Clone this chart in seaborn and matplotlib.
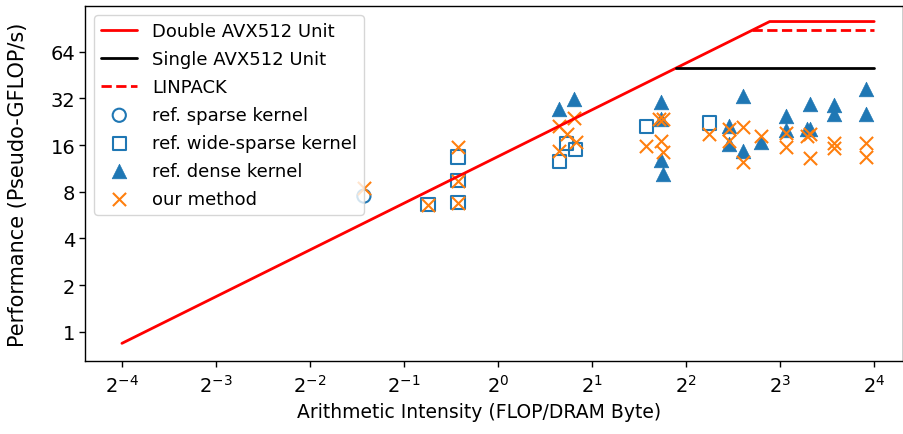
import numpy as np
import pandas as pd
import matplotlib
matplotlib.use("Agg")
import matplotlib.pyplot as plt
import matplotlib.ticker as mticker
import seaborn as sns

# Roofline parameters
bandwidth = 13.5          # GB/s
peak_double = 100.0       # Double AVX512 Unit
peak_single = 50.0        # Single AVX512 Unit
peak_linpack = 88.0       # LINPACK
ai_min, ai_max = 1 / 16, 16

# Measured points
sparse_ai = [0.372]
sparse_perf = [7.5]

wide_ai = [0.597, 0.744, 0.744, 0.744, 1.57, 1.66, 1.77, 2.98, 4.74]
wide_perf = [6.6, 6.8, 9.4, 13.4, 12.6, 16.3, 14.9, 21.0, 22.2]

dense_ai = [1.57, 1.75, 3.33, 3.33, 3.33, 3.38, 5.49, 5.49, 6.09, 6.09, 6.96,
            8.36, 8.36, 9.77, 9.98, 9.98, 11.9, 11.9, 15.1, 15.1]
dense_perf = [27.4, 31.8, 30.4, 23.6, 12.8, 10.4, 21.2, 16.3, 33.2, 14.7, 16.8,
              24.7, 20.0, 20.4, 29.5, 20.4, 29.0, 25.4, 36.8, 25.4]

ours_ai = [0.372, 0.597, 0.744, 0.744, 0.744, 1.57, 1.57, 1.66, 1.75, 1.77,
           2.98, 3.28, 3.38, 3.33, 3.38, 4.74, 5.49, 5.49, 6.09, 6.09, 6.96,
           8.36, 8.36, 9.77, 9.98, 9.98, 11.9, 11.9, 15.1, 15.1]
ours_perf = [8.5, 6.6, 15.6, 9.4, 6.8, 21.3, 14.7, 18.9, 24.0, 16.8,
             15.8, 23.6, 23.6, 17.0, 14.4, 18.9, 20.4, 17.0, 21.0, 12.5, 18.4,
             19.2, 15.6, 18.4, 18.9, 13.2, 16.5, 15.4, 16.5, 13.4]

xticks = [2.0 ** k for k in range(-4, 5)]
yticks = [1, 2, 4, 8, 16, 32, 64]

sns.set_style("ticks")
plt.rcParams["font.family"] = ["DejaVu Sans"]
plt.rcParams["font.size"] = 13
for key in ["text.color", "axes.labelcolor", "xtick.color", "ytick.color", "axes.edgecolor"]:
    plt.rcParams[key] = "black"

fig, ax = plt.subplots(figsize=(9.04, 4.35), dpi=100)
fig.subplots_adjust(left=0.094, right=0.999, top=0.984, bottom=0.168)

blue = "#1f77b4"
orange = "#ff7f0e"

# Roofline lines
knee_d = peak_double / bandwidth
knee_s = peak_single / bandwidth
knee_l = peak_linpack / bandwidth
roof_double = pd.DataFrame({"ai": [ai_min, knee_d, ai_max],
                            "perf": [bandwidth * ai_min, peak_double, peak_double]})
roof_single = pd.DataFrame({"ai": [knee_s, ai_max], "perf": [peak_single, peak_single]})
roof_linpack = pd.DataFrame({"ai": [knee_l, ai_max], "perf": [peak_linpack, peak_linpack]})

sns.lineplot(data=roof_double, x="ai", y="perf", ax=ax, color="red", lw=2,
             sort=False, estimator=None, label="Double AVX512 Unit")
sns.lineplot(data=roof_single, x="ai", y="perf", ax=ax, color="black", lw=2,
             sort=False, estimator=None, label="Single AVX512 Unit")
sns.lineplot(data=roof_linpack, x="ai", y="perf", ax=ax, color="red", lw=2,
             sort=False, estimator=None, label="LINPACK", linestyle="--")

sns.scatterplot(x=sparse_ai, y=sparse_perf, ax=ax, marker="o", s=90,
                facecolors="none", edgecolor=blue, linewidth=1.5,
                label="ref. sparse kernel")
sns.scatterplot(x=wide_ai, y=wide_perf, ax=ax, marker="s", s=90,
                facecolors="none", edgecolor=blue, linewidth=1.5,
                label="ref. wide-sparse kernel")
sns.scatterplot(x=dense_ai, y=dense_perf, ax=ax, marker="^", s=110,
                color=blue, edgecolor=blue, linewidth=0.5,
                label="ref. dense kernel")
sns.scatterplot(x=ours_ai, y=ours_perf, ax=ax, marker="x", s=90,
                color=orange, linewidth=1.5, label="our method")

ax.set_xscale("log", base=2)
ax.set_yscale("log", base=2)
ax.set_xlim(0.0476, 19.8)
ax.set_ylim(0.65, 126)
ax.set_xticks(xticks)
ax.xaxis.set_major_formatter(mticker.LogFormatterMathtext(base=2))
ax.set_yticks(yticks)
ax.yaxis.set_major_formatter(mticker.FuncFormatter(lambda v, p: f"{v:g}"))
ax.xaxis.set_minor_locator(mticker.NullLocator())
ax.yaxis.set_minor_locator(mticker.NullLocator())
ax.tick_params(labelsize=14, length=4, width=1)
ax.tick_params(axis="x", pad=5)
ax.tick_params(axis="y", pad=3)

ax.set_xlabel("Arithmetic Intensity (FLOP/DRAM Byte)", fontsize=13.5)
ax.set_ylabel("Performance (Pseudo-GFLOP/s)", fontsize=15)
ax.yaxis.set_label_coords(-0.070, 0.5)
ax.xaxis.set_label_coords(0.482, -0.115)

for sp in ax.spines.values():
    sp.set_visible(True)
    sp.set_color("black")
    sp.set_linewidth(1)

ax.legend(loc="upper left", fontsize=13, frameon=True, labelspacing=0.55)

fig.savefig("out.png", dpi=100)
